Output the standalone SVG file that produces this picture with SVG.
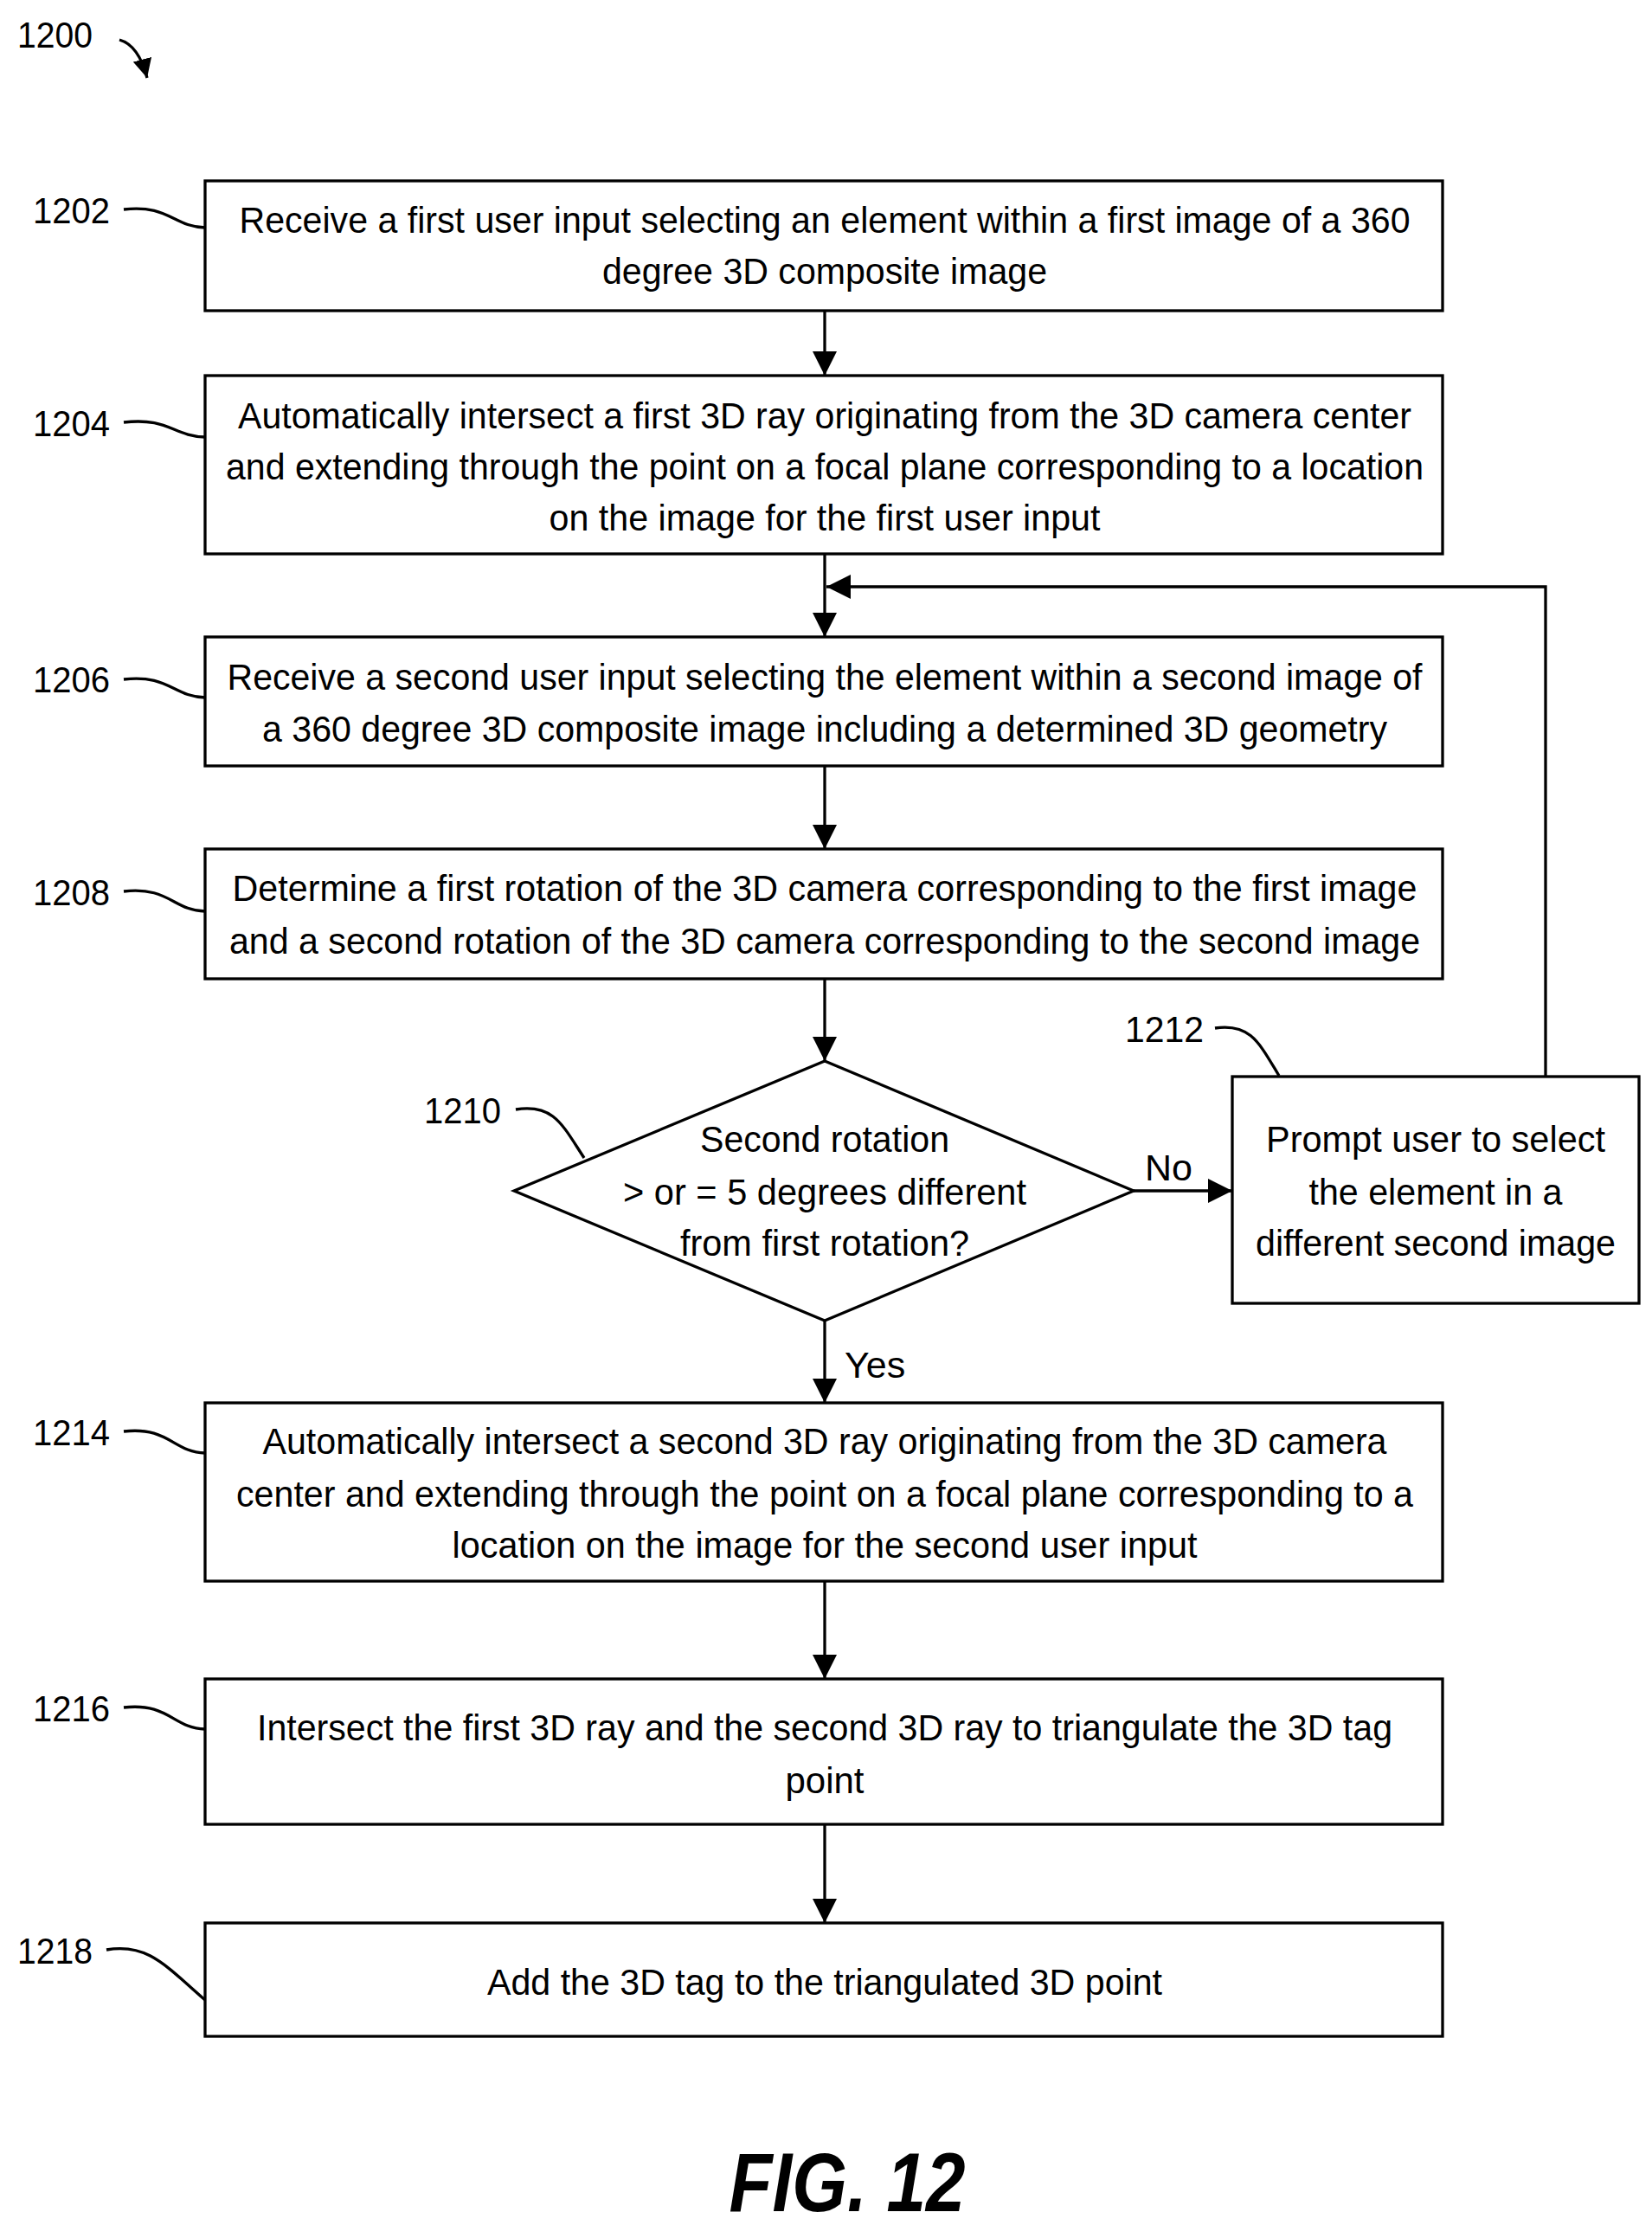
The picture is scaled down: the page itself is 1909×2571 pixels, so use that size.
<svg xmlns="http://www.w3.org/2000/svg" width="1909" height="2571" viewBox="0 0 1909 2571">
<style>
.b{fill:#fff;stroke:#000;stroke-width:3.3}
.t{font-family:"Liberation Sans",Arial,sans-serif;font-size:43px;fill:#000;text-anchor:middle}
.n{font-family:"Liberation Sans",Arial,sans-serif;font-size:43px;fill:#000}
.l{fill:none;stroke:#000;stroke-width:3.3}
</style>
<defs>
<marker id="ah" viewBox="0 0 10 10" refX="10" refY="5" markerWidth="28" markerHeight="28" orient="auto" markerUnits="userSpaceOnUse"><path d="M0,0 L10,5 L0,10 z"/></marker>
<marker id="as" viewBox="0 0 10 10" refX="10" refY="5" markerWidth="22" markerHeight="22" orient="auto" markerUnits="userSpaceOnUse"><path d="M0,0 L10,5 L0,10 z"/></marker></defs>
<text class="n" x="20" y="55" textLength="87" lengthAdjust="spacingAndGlyphs">1200</text>
<path class="l" d="M138,46 Q160,52 170,90" marker-end="url(#as)"/>
<g id="n1202"><rect class="b" x="237" y="209" width="1430" height="150"/>
<text class="t" x="953" y="269" textLength="1353" lengthAdjust="spacingAndGlyphs">Receive a first user input selecting an element within a first image of a 360</text>
<text class="t" x="953" y="328" textLength="514" lengthAdjust="spacingAndGlyphs">degree 3D composite image</text>
<text class="n" x="38" y="258" textLength="89" lengthAdjust="spacingAndGlyphs">1202</text>
<path class="l" d="M143,242 C195,236 200,262 237,263"/></g>
<g id="n1204"><rect class="b" x="237" y="434" width="1430" height="206"/>
<text class="t" x="953" y="495" textLength="1356" lengthAdjust="spacingAndGlyphs">Automatically intersect a first 3D ray originating from the 3D camera center</text>
<text class="t" x="953" y="554" textLength="1384" lengthAdjust="spacingAndGlyphs">and extending through the point on a focal plane corresponding to a location</text>
<text class="t" x="953" y="613" textLength="637" lengthAdjust="spacingAndGlyphs">on the image for the first user input</text>
<text class="n" x="38" y="504" textLength="89" lengthAdjust="spacingAndGlyphs">1204</text>
<path class="l" d="M143,488 C195,482 200,504 237,505"/></g>
<g id="n1206"><rect class="b" x="237" y="736" width="1430" height="149"/>
<text class="t" x="953" y="797" textLength="1381" lengthAdjust="spacingAndGlyphs">Receive a second user input selecting the element within a second image of</text>
<text class="t" x="953" y="857" textLength="1300" lengthAdjust="spacingAndGlyphs">a 360 degree 3D composite image including a determined 3D geometry</text>
<text class="n" x="38" y="800" textLength="89" lengthAdjust="spacingAndGlyphs">1206</text>
<path class="l" d="M143,785 C195,779 200,805 237,806"/></g>
<g id="n1208"><rect class="b" x="237" y="981" width="1430" height="150"/>
<text class="t" x="953" y="1041" textLength="1369" lengthAdjust="spacingAndGlyphs">Determine a first rotation of the 3D camera corresponding to the first image</text>
<text class="t" x="953" y="1102" textLength="1376" lengthAdjust="spacingAndGlyphs">and a second rotation of the 3D camera corresponding to the second image</text>
<text class="n" x="38" y="1046" textLength="89" lengthAdjust="spacingAndGlyphs">1208</text>
<path class="l" d="M143,1030 C195,1024 200,1052 237,1053"/></g>
<g id="n1210"><polygon class="b" points="953,1226 1310,1376 953,1526 594,1376"/>
<text class="t" x="953" y="1331" textLength="288" lengthAdjust="spacingAndGlyphs">Second rotation</text>
<text class="t" x="953" y="1392" textLength="466" lengthAdjust="spacingAndGlyphs">&gt; or = 5 degrees different</text>
<text class="t" x="953" y="1451" textLength="334" lengthAdjust="spacingAndGlyphs">from first rotation?</text>
<text class="n" x="490" y="1298" textLength="89" lengthAdjust="spacingAndGlyphs">1210</text>
<path class="l" d="M596,1282 C640,1275 650,1300 675,1338"/></g>
<g id="n1212"><rect class="b" x="1424" y="1244" width="470" height="262"/>
<text class="t" x="1659" y="1331" textLength="392" lengthAdjust="spacingAndGlyphs">Prompt user to select</text>
<text class="t" x="1659" y="1392" textLength="293" lengthAdjust="spacingAndGlyphs">the element in a</text>
<text class="t" x="1659" y="1451" textLength="416" lengthAdjust="spacingAndGlyphs">different second image</text>
<text class="n" x="1300" y="1204" textLength="91" lengthAdjust="spacingAndGlyphs">1212</text>
<path class="l" d="M1404,1188 C1445,1182 1455,1205 1478,1243"/></g>
<g id="n1214"><rect class="b" x="237" y="1621" width="1430" height="206"/>
<text class="t" x="953" y="1680" textLength="1299" lengthAdjust="spacingAndGlyphs">Automatically intersect a second 3D ray originating from the 3D camera</text>
<text class="t" x="953" y="1741" textLength="1360" lengthAdjust="spacingAndGlyphs">center and extending through the point on a focal plane corresponding to a</text>
<text class="t" x="953" y="1800" textLength="861" lengthAdjust="spacingAndGlyphs">location on the image for the second user input</text>
<text class="n" x="38" y="1670" textLength="89" lengthAdjust="spacingAndGlyphs">1214</text>
<path class="l" d="M143,1654 C195,1648 200,1678 237,1679"/></g>
<g id="n1216"><rect class="b" x="237" y="1940" width="1430" height="168"/>
<text class="t" x="953" y="2011" textLength="1312" lengthAdjust="spacingAndGlyphs">Intersect the first 3D ray and the second 3D ray to triangulate the 3D tag</text>
<text class="t" x="953" y="2072" textLength="91" lengthAdjust="spacingAndGlyphs">point</text>
<text class="n" x="38" y="1989" textLength="89" lengthAdjust="spacingAndGlyphs">1216</text>
<path class="l" d="M143,1973 C195,1967 200,1997 237,1998"/></g>
<g id="n1218"><rect class="b" x="237" y="2222" width="1430" height="131"/>
<text class="t" x="953" y="2305" textLength="780" lengthAdjust="spacingAndGlyphs">Add the 3D tag to the triangulated 3D point</text>
<text class="n" x="20" y="2269" textLength="87" lengthAdjust="spacingAndGlyphs">1218</text>
<path class="l" d="M123,2253 C170,2245 190,2270 237,2311"/></g>
<g id="connectors">
<path class="l" d="M953,359 V434" marker-end="url(#ah)"/>
<path class="l" d="M953,640 V736" marker-end="url(#ah)"/>
<path class="l" d="M953,885 V981" marker-end="url(#ah)"/>
<path class="l" d="M953,1131 V1226" marker-end="url(#ah)"/>
<path class="l" d="M1310,1376 H1424" marker-end="url(#ah)"/>
<path class="l" d="M953,1526 V1621" marker-end="url(#ah)"/>
<path class="l" d="M953,1827 V1940" marker-end="url(#ah)"/>
<path class="l" d="M953,2108 V2222" marker-end="url(#ah)"/>
<path class="l" d="M1786,1244 V678 H955" marker-end="url(#ah)"/>
<text class="n" x="1323" y="1364">No</text>
<text class="n" x="976" y="1592">Yes</text>
</g>
<text x="979" y="2555" font-family="Liberation Sans,Arial,sans-serif" font-size="96" font-style="italic" font-weight="bold" text-anchor="middle" textLength="273" lengthAdjust="spacingAndGlyphs">FIG. 12</text>
</svg>
